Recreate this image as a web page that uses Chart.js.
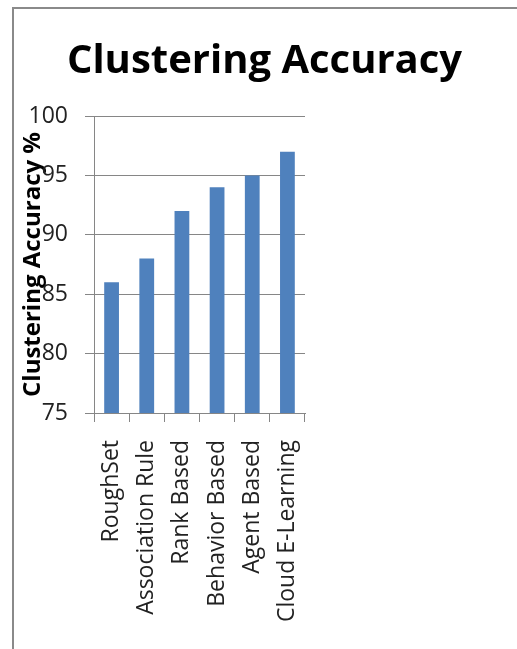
<!DOCTYPE html>
<html>
<head>
<meta charset="utf-8">
<script src="https://cdn.jsdelivr.net/npm/chart.js@4.4.1/dist/chart.umd.min.js"></script>
<style>
  html, body { margin: 0; padding: 0; background: #fff; }
  #wrap { position: relative; width: 517px; height: 649px; overflow: hidden; }
  #c { position: absolute; left: 0; top: 0; }
  #frame {
    position: absolute; left: 12px; top: 7px; width: 520px; height: 660px;
    border-left: 2px solid #8a8a8a; border-top: 2px solid #8a8a8a;
    box-sizing: border-box; pointer-events: none;
  }
</style>
</head>
<body>
<div id="wrap">
  <canvas id="c" width="517" height="649"></canvas>
  <div id="frame"></div>
</div>
<script>
// Methods compared
const categories = ["RoughSet", "Association Rule", "Rank Based", "Behavior Based", "Agent Based", "Cloud E-Learning"];
// Clustering accuracy in percent
const accuracy = [86, 88, 92, 94, 95, 97];
// Value axis range
const yMin = 75;
const yMax = 100;
const yStep = 5;

const FONT = "'Open Sans', 'Liberation Sans', sans-serif";
const GRID = "#868686";

new Chart(document.getElementById("c"), {
  type: "bar",
  data: {
    labels: categories,
    datasets: [{
      data: accuracy,
      yAxisID: "y",
      backgroundColor: "#4F81BD",
      borderWidth: 0,
      barPercentage: 0.42,
      categoryPercentage: 1.0
    }]
  },
  options: {
    responsive: false,
    animation: false,
    devicePixelRatio: 1,
    layout: { padding: { left: 12, right: 0, top: 0, bottom: 0 } },
    plugins: {
      legend: { display: false },
      tooltip: { enabled: false },
      title: {
        display: true,
        text: "Clustering Accuracy",
        color: "#000",
        font: { family: FONT, size: 40, weight: "bold" },
        padding: { top: 38, bottom: 30 },
        align: "center",
        fullSize: true
      }
    },
    scales: {
      x: {
        grid: { drawOnChartArea: false, drawTicks: true, tickLength: 9, color: GRID, offset: true },
        border: { display: true, color: GRID },
        ticks: {
          color: "#222",
          font: { family: FONT, size: 23 },
          minRotation: 90,
          maxRotation: 90,
          autoSkip: false,
          padding: 18
        },
        afterFit: (s) => { s.height = 236; }
      },
      y: {
        min: yMin,
        max: yMax,
        grid: { color: GRID, tickLength: 9, drawTicks: true },
        border: { display: true, color: GRID },
        ticks: {
          stepSize: yStep,
          color: "#222",
          font: { family: FONT, size: 23 },
          padding: 17
        },
        title: {
          display: true,
          text: "Clustering Accuracy %",
          color: "#000",
          font: { family: FONT, size: 24, weight: "bold" },
          padding: { top: 7, bottom: 0 }
        },
        afterFit: (s) => { s.width = 82; }
      },
      // empty space to the right of the plot
      yr: {
        type: "linear",
        position: "right",
        grid: { display: false },
        border: { display: false },
        ticks: { display: false },
        afterFit: (s) => { s.width = 212; }
      }
    }
  }
});
</script>
</body>
</html>
